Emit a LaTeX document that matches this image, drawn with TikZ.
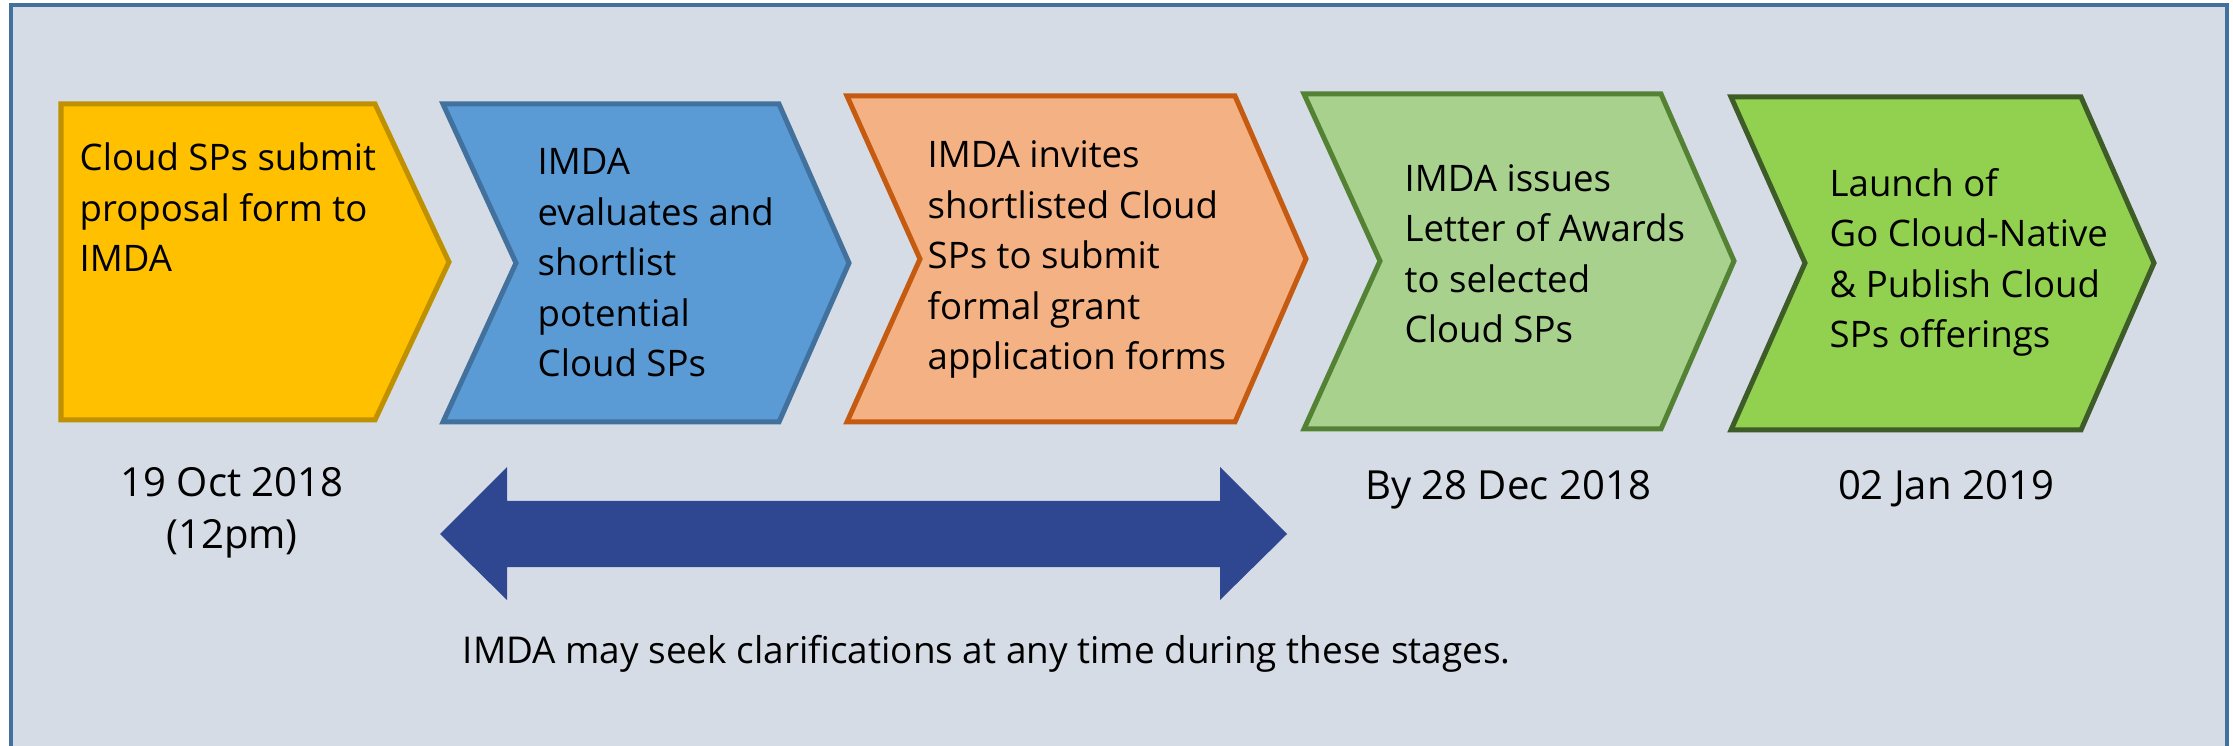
\documentclass[tikz,border=0pt]{standalone}
\usepackage{fontspec}
\setmainfont{Open Sans}
\definecolor{panelbg}{HTML}{D6DCE5}
\definecolor{panelline}{HTML}{41719C}
\definecolor{yellowfill}{HTML}{FFC000}
\definecolor{yellowline}{HTML}{BF9000}
\definecolor{bluefill}{HTML}{5B9BD5}
\definecolor{blueline}{HTML}{41719C}
\definecolor{orangefill}{HTML}{F4B183}
\definecolor{orangeline}{HTML}{C55A11}
\definecolor{palegreenfill}{HTML}{A9D18E}
\definecolor{palegreenline}{HTML}{548235}
\definecolor{greenfill}{HTML}{92D050}
\definecolor{greenline}{HTML}{3D5C27}
\definecolor{spanblue}{HTML}{2F4690}
\newcommand\stagefont{\fontsize{10.4pt}{14.4pt}\selectfont}
\newcommand\datefont{\fontsize{11.4pt}{14.6pt}\selectfont}
\newcommand\notefont{\fontsize{10.5pt}{14pt}\selectfont}
\begin{document}
\begin{tikzpicture}[x=0.01cm, y=-0.01cm,
		stage/.style={anchor=base west, align=left, inner sep=0pt, font=\stagefont},
		datelbl/.style={anchor=base, align=center, inner sep=0pt, font=\datefont}]
	\useasboundingbox (0,0) rectangle (2233,746);
	\filldraw[fill=panelbg, draw=panelline, line width=0.04cm] (11,5) rectangle (2227,800);
	% chevrons: left, notch, top, bottom, shoulder, tip, middle
	\foreach \l/\n/\t/\b/\s/\p/\m/\fc/\dc in {
			61/61/104/420/375/449/262/yellowfill/yellowline,
			443/516/104/422/779/849/263/bluefill/blueline,
			847/920/96/422/1235/1306/259/orangefill/orangeline,
			1304/1380/94/429/1661/1734/261/palegreenfill/palegreenline,
			1731/1805/97/430/2081/2154/263/greenfill/greenline}
		\filldraw[fill=\fc, draw=\dc, line width=0.05cm]
			(\l,\t) -- (\s,\t) -- (\p,\m) -- (\s,\b) -- (\l,\b) -- (\n,\m) -- cycle;
	% stage texts, placed at the baseline of their last line
	\node[stage] (submit) at (79,272) {Cloud SPs submit\\proposal form to\\IMDA};
	\node[stage] (evaluate) at (537,377) {IMDA\\evaluates and\\shortlist\\potential\\Cloud SPs};
	\node[stage] (invite) at (927,370) {IMDA invites\\shortlisted Cloud\\SPs to submit\\formal grant\\application forms};
	\node[stage] (award) at (1404,343) {IMDA issues\\Letter of Awards\\to selected\\Cloud SPs};
	\node[stage] (launch) at (1829,348) {Launch of\\Go Cloud-Native\\\& Publish Cloud\\SPs offerings};
	% dates
	\node[datelbl] (closing) at (232,548) {19 Oct 2018\\(12pm)};
	\node[datelbl] (awarddate) at (1508,500) {By 28 Dec 2018};
	\node[datelbl] (launchdate) at (1946,500) {02 Jan 2019};
	% clarification span
	\fill[spanblue] (440,534) -- (507,467) -- (507,501) -- (1220,501) -- (1220,467)
		-- (1287,534) -- (1220,600) -- (1220,567) -- (507,567) -- (507,600) -- cycle;
	\node[anchor=base west, inner sep=0pt, font=\notefont] (note) at (462,663)
		{IMDA may seek clarifications at any time during these stages.};
\end{tikzpicture}
\end{document}
